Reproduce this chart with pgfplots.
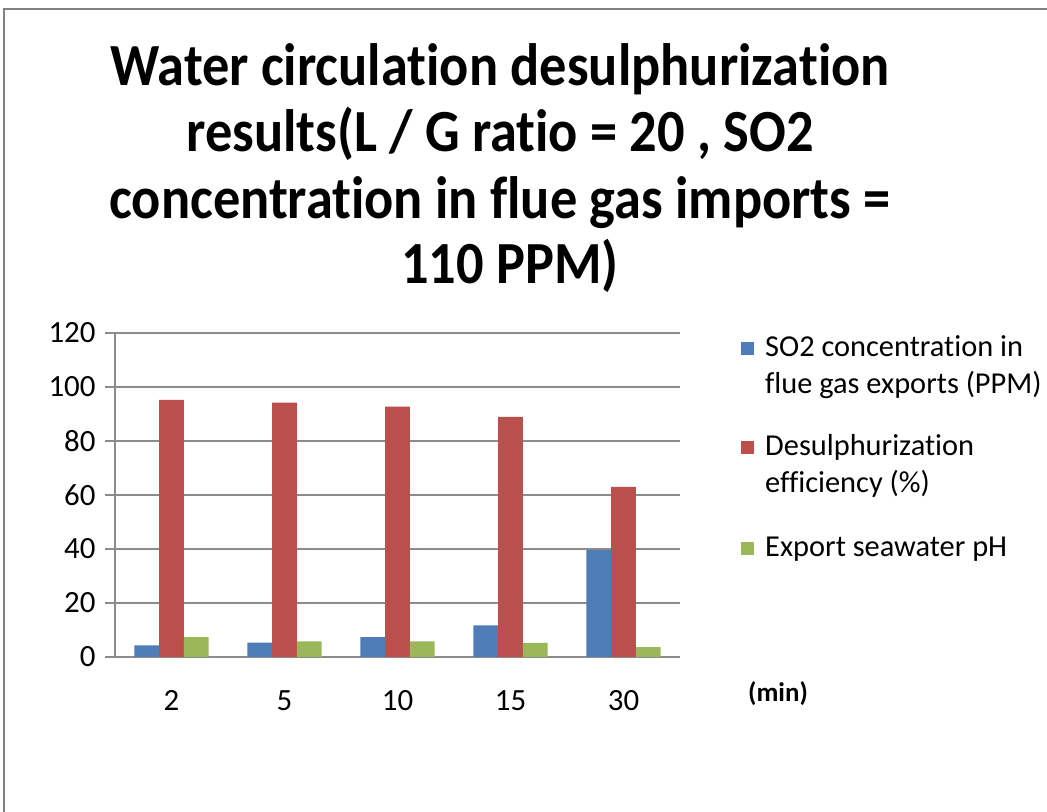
\documentclass[border=0pt]{standalone}
\usepackage{pgfplots}
\pgfplotsset{compat=1.18}
\usepackage{fontspec}
\setmainfont{Carlito}[Ligatures=CommonOff]
\definecolor{sblue}{HTML}{4F7DB8}
\definecolor{sred}{HTML}{BA4F4C}
\definecolor{sgreen}{HTML}{9AB75A}
\definecolor{gridg}{HTML}{8C8C8C}
\begin{document}
\begin{tikzpicture}
\useasboundingbox (0bp,0bp) rectangle (1047bp,812bp);
\fill[white] (0bp,0bp) rectangle (1047bp,812bp);
\draw[gray, line width=2.5bp] (4bp,-5bp) -- (4bp,803bp) -- (1052bp,803bp);
\begin{axis}[
  at={(115bp,155bp)}, anchor=south west,
  scale only axis, width=565bp, height=324bp,
  ymin=0, ymax=120, ytick={0,20,...,120},
  xmin=-0.5, xmax=4.5, xtick={0,...,4}, xticklabels={2,5,10,15,30},
  ybar=0pt, bar width=24.8bp,
  axis x line*=bottom, axis y line*=left,
  axis line style={gridg, line width=1.2bp},
  ymajorgrids, grid style={gridg, line width=1.2bp},
  tick align=outside, major tick length=10bp,
  major x tick style={draw=none},
  major y tick style={gridg, line width=1.2bp},
  tick label style={font=\fontsize{31}{36}\selectfont},
  /pgf/number format/assume math mode=true,
  xticklabel style={yshift=-20bp},
  yticklabel style={xshift=-6bp},
  every axis plot/.append style={draw=none},
]
\addplot[fill=sblue] coordinates {(0,4.3) (1,5.3) (2,7.4) (3,11.7) (4,39.6)};
\addplot[fill=sred] coordinates {(0,95.2) (1,94.2) (2,92.7) (3,88.9) (4,63.0)};
\addplot[fill=sgreen] coordinates {(0,7.4) (1,5.8) (2,5.8) (3,5.2) (4,3.7)};
\end{axis}
% title
\begin{scope}[every node/.style={anchor=base, inner sep=0pt, font=\fontsize{60}{66}\bfseries\selectfont}]
\node at (500bp,726bp) {\scalebox{0.91}[1]{Water circulation desulphurization}};
\node at (500bp,660bp) {\scalebox{0.91}[1]{results(L / G ratio = 20 , SO2}};
\node at (500bp,593bp) {\scalebox{0.91}[1]{concentration in flue gas imports =}};
\node at (510bp,528bp) {\scalebox{0.91}[1]{110 PPM)}};
\end{scope}
\node[anchor=base west, inner sep=0pt, font=\fontsize{27}{30}\bfseries\selectfont] at (748bp,110bp) {(min)};
% legend
\begin{scope}[every node/.style={anchor=base west, inner sep=0pt, font=\fontsize{30.5}{34}\selectfont}]
\fill[sblue] (741bp,457bp) rectangle (754bp,470bp);
\node at (765bp,455bp) {SO2 concentration in};
\node at (765bp,418bp) {flue gas exports (PPM)};
\fill[sred] (741bp,358bp) rectangle (754bp,371bp);
\node at (765bp,356bp) {Desulphurization};
\node at (765bp,319bp) {efficiency (\%)};
\fill[sgreen] (741bp,257bp) rectangle (754bp,270bp);
\node at (765bp,255bp) {Export seawater pH};
\end{scope}
\end{tikzpicture}
\end{document}
